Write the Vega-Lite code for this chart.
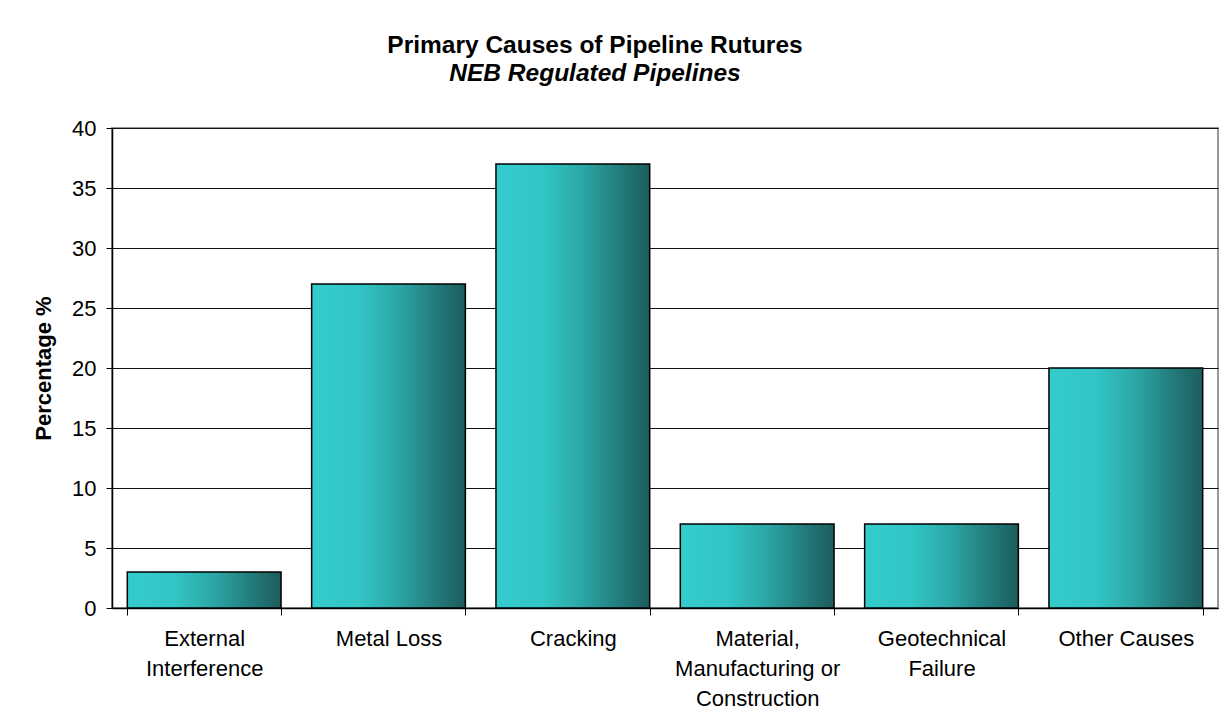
{
  "$schema": "https://vega.github.io/schema/vega-lite/v6.json",
  "autosize": {"type": "none"},
  "width": 1106,
  "height": 480,
  "padding": {"left": 112, "top": 128, "right": 7, "bottom": 117},
  "background": "white",
  "title": {
    "text": "Primary Causes of Pipeline Rutures",
    "subtitle": "NEB Regulated Pipelines",
    "anchor": "middle",
    "frame": "group",
    "dx": -70,
    "offset": 31,
    "font": "Liberation Sans",
    "fontSize": 24.5,
    "fontWeight": "bold",
    "color": "black",
    "subtitleFont": "Liberation Sans",
    "subtitleFontSize": 24.5,
    "subtitleFontWeight": "bold",
    "subtitleFontStyle": "italic",
    "subtitleColor": "black",
    "subtitlePadding": 3
  },
  "data": {
    "values": [
      {"cause": "External Interference", "pct": 3},
      {"cause": "Metal Loss", "pct": 27},
      {"cause": "Cracking", "pct": 37},
      {"cause": "Material, Manufacturing or Construction", "pct": 7},
      {"cause": "Geotechnical Failure", "pct": 7},
      {"cause": "Other Causes", "pct": 20}
    ]
  },
  "mark": {
    "type": "bar",
    "stroke": "black",
    "strokeWidth": 1.5,
    "color": {
      "gradient": "linear",
      "x1": 0, "x2": 1, "y1": 0, "y2": 0,
      "stops": [
        {"offset": 0, "color": "#33CCCC"},
        {"offset": 0.3, "color": "#32C6C6"},
        {"offset": 0.55, "color": "#2CA8A8"},
        {"offset": 0.78, "color": "#248080"},
        {"offset": 1, "color": "#1D5C5C"}
      ]
    }
  },
  "encoding": {
    "x": {
      "field": "cause",
      "type": "nominal",
      "sort": null,
      "scale": {"paddingInner": 0.166, "paddingOuter": 0.083},
      "axis": {
        "title": null,
        "labelAngle": 0,
        "labelFont": "Liberation Sans",
        "labelFontSize": 22,
        "labelColor": "black",
        "labelLineHeight": 30,
        "labelPadding": 13,
        "labelBaseline": "top",
        "labelLimit": 300,
        "tickBand": "extent",
        "tickSize": 7,
        "tickColor": "black",
        "domainColor": "black",
        "domainWidth": 1.5,
        "labelExpr": "datum.value == 'External Interference' ? ['External','Interference'] : datum.value == 'Material, Manufacturing or Construction' ? ['Material,','Manufacturing or','Construction'] : datum.value == 'Geotechnical Failure' ? ['Geotechnical','Failure'] : datum.value"
      }
    },
    "y": {
      "field": "pct",
      "type": "quantitative",
      "scale": {"domain": [0, 40], "nice": false},
      "axis": {
        "title": "Percentage %",
        "titleFont": "Liberation Sans",
        "titleFontSize": 22,
        "titleFontWeight": "bold",
        "titleColor": "black",
        "titlePadding": 16,
        "values": [0, 5, 10, 15, 20, 25, 30, 35, 40],
        "labelFont": "Liberation Sans",
        "labelFontSize": 22,
        "labelColor": "black",
        "labelPadding": 10,
        "tickSize": 6,
        "tickColor": "black",
        "domainColor": "black",
        "domainWidth": 1.5,
        "grid": true,
        "gridColor": "#111",
        "gridWidth": 1.2
      }
    }
  },
  "config": {
    "view": {"stroke": "#999999", "strokeWidth": 2}
  }
}
